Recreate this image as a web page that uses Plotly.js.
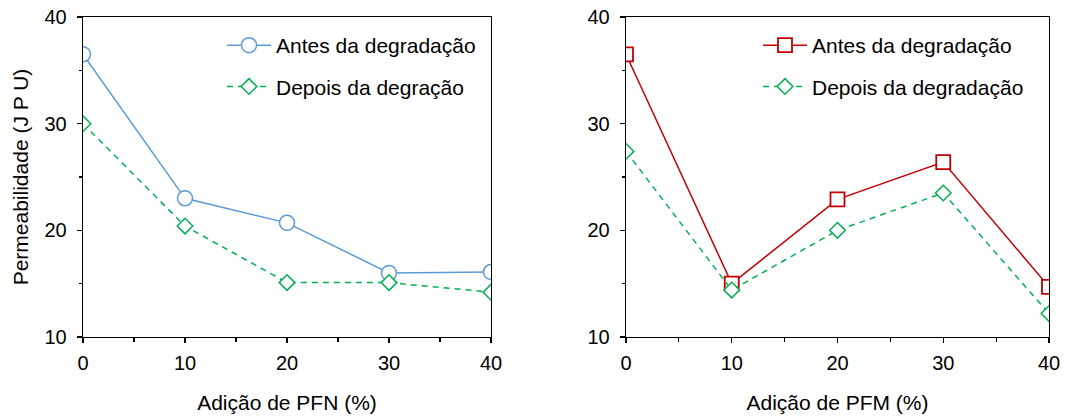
<!DOCTYPE html>
<html>
<head>
<meta charset="utf-8">
<script src="https://cdn.plot.ly/plotly-3.0.1.min.js"></script>
<style>html,body{margin:0;padding:0;background:#fff;}#chart{width:1068px;height:416px;}</style>
</head>
<body>
<div id="chart"></div>
<script>
// Data
const additions = [0, 10, 20, 30, 40];
const pfnAntes  = [36.5, 23.0, 20.7, 16.0, 16.1];
const pfnDepois = [30.0, 20.4, 15.1, 15.1, 14.2];
const pfmAntes  = [36.5, 15.0, 22.9, 26.4, 14.7];
const pfmDepois = [27.4, 14.4, 20.0, 23.5, 12.2];
const nameAntes = 'Antes da degradação';
const nameDepoisPFN = 'Depois da degração';
const nameDepoisPFM = 'Depois da degradação';
const xTitlePFN = 'Adição de PFN (%)';
const xTitlePFM = 'Adição de PFM (%)';
const yTitle = 'Permeabilidade (J P U)';

const FONT = 'Liberation Sans, Arial, sans-serif';
const blue = '#5B9BD5', green = '#00B050', red = '#C00000';

const traces = [
  {x: additions, y: pfnAntes, name: nameAntes, type: 'scatter', mode: 'lines+markers',
   xaxis: 'x', yaxis: 'y', legend: 'legend', legendgroup: 'a',
   line: {color: blue, width: 1.5},
   marker: {symbol: 'circle', size: 15, color: '#fff', line: {color: blue, width: 1.5}}},
  {x: additions, y: pfnDepois, name: nameDepoisPFN, type: 'scatter', mode: 'lines+markers',
   xaxis: 'x', yaxis: 'y', legend: 'legend', legendgroup: 'b',
   line: {color: green, width: 1.5, dash: '6px,5px'},
   marker: {symbol: 'diamond', size: 12, color: '#fff', line: {color: green, width: 1.5}}},
  {x: additions, y: pfmAntes, name: nameAntes, type: 'scatter', mode: 'lines+markers',
   xaxis: 'x2', yaxis: 'y2', legend: 'legend2', legendgroup: 'c',
   line: {color: red, width: 1.5},
   marker: {symbol: 'square', size: 14, color: '#fff', line: {color: red, width: 1.8}}},
  {x: additions, y: pfmDepois, name: nameDepoisPFM, type: 'scatter', mode: 'lines+markers',
   xaxis: 'x2', yaxis: 'y2', legend: 'legend2', legendgroup: 'd',
   line: {color: green, width: 1.5, dash: '6px,5px'},
   marker: {symbol: 'diamond', size: 12, color: '#fff', line: {color: green, width: 1.5}}}
];

function xax(domain, title, anchor) {
  return {
    domain: domain, anchor: anchor, range: [0, 40], tickvals: [0, 10, 20, 30, 40],
    ticks: 'outside', ticklen: 5, tickwidth: 1.2, tickcolor: '#000',
    minor: {tickvals: [5, 15, 25, 35], ticks: 'outside', ticklen: 4, tickwidth: 1.2, tickcolor: '#000'},
    showline: true, linecolor: '#000', linewidth: 1.3, mirror: true,
    showgrid: false, zeroline: false, ticklabelstandoff: 3,
    tickfont: {family: FONT, size: 20, color: '#000'},
    title: {text: title, font: {family: FONT, size: 21, color: '#000'}, standoff: 22}
  };
}
function yax(domain, title, anchor) {
  return {
    domain: domain, anchor: anchor, range: [10, 40], tickvals: [10, 20, 30, 40],
    ticks: 'outside', ticklen: 5, tickwidth: 1.2, tickcolor: '#000',
    minor: {tickvals: [15, 25, 35], ticks: 'outside', ticklen: 3, tickwidth: 1.2, tickcolor: '#000'},
    showline: true, linecolor: '#000', linewidth: 1.3, mirror: true,
    showgrid: false, zeroline: false, ticklabelstandoff: 6,
    tickfont: {family: FONT, size: 20, color: '#000'},
    title: title ? {text: title, font: {family: FONT, size: 21, color: '#000'}, standoff: 10} : {text: ''}
  };
}

const yDom = [1 - 337/416, 1 - 17/416];
const layout = {
  width: 1068, height: 416,
  margin: {l: 0, r: 0, t: 0, b: 0},
  paper_bgcolor: '#fff', plot_bgcolor: '#fff',
  showlegend: true,
  xaxis: xax([83/1068, 491/1068], xTitlePFN, 'y'),
  yaxis: yax(yDom, yTitle, 'x'),
  xaxis2: xax([626/1068, 1049/1068], xTitlePFM, 'y2'),
  yaxis2: yax(yDom, '', 'x2'),
  legend: {x: 222/1068, y: 1 - 25/416, xanchor: 'left', yanchor: 'top', itemwidth: 44,
    bgcolor: 'rgba(0,0,0,0)', traceorder: 'grouped', tracegroupgap: 11,
    font: {family: FONT, size: 21, color: '#000'}},
  legend2: {x: 758/1068, y: 1 - 25/416, xanchor: 'left', yanchor: 'top', itemwidth: 44,
    bgcolor: 'rgba(0,0,0,0)', traceorder: 'grouped', tracegroupgap: 11,
    font: {family: FONT, size: 21, color: '#000'}}
};

Plotly.newPlot('chart', traces, layout, {displayModeBar: false, staticPlot: true});
</script>
</body>
</html>
